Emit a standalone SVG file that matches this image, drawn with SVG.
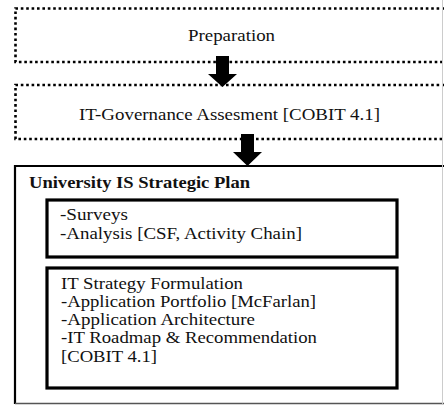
<svg xmlns="http://www.w3.org/2000/svg" width="444" height="405" viewBox="0 0 444 405">
<style>
.dot{fill:none;stroke:#000;stroke-width:2.6;stroke-dasharray:2.6 2.8}
.box{fill:none;stroke:#000;stroke-width:3.2}
.t{font-family:"Liberation Serif","Times New Roman",serif;font-size:17px;fill:#111}
.b{font-family:"Liberation Serif","Times New Roman",serif;font-size:16px;font-weight:bold;fill:#111}
.arr{fill:#000}
</style>
<rect width="444" height="405" fill="#fff"/>
<g id="preparation">
<path class="dot" d="M450,8.5 H15.5 V62 H450"/>
<text class="t" x="188" y="41" textLength="87" lengthAdjust="spacingAndGlyphs">Preparation</text>
</g>
<g id="it-governance">
<path class="dot" d="M450,85 H15.5 V139 H450"/>
<text class="t" x="79" y="120" textLength="301" lengthAdjust="spacingAndGlyphs">IT-Governance Assesment [COBIT 4.1]</text>
</g>
<g id="strategic-plan">
<path d="M15,404 V166 H444" fill="none" stroke="#000" stroke-width="2.2"/>
<path d="M15,403.5 H444" stroke="#555" stroke-width="1.5"/>
<text class="b" x="29" y="188" textLength="221" lengthAdjust="spacingAndGlyphs">University IS Strategic Plan</text>
</g>
<g id="surveys-analysis">
<rect class="box" x="47" y="200" width="350" height="57"/>
<text class="t" x="60" y="220" textLength="68" lengthAdjust="spacingAndGlyphs">-Surveys</text>
<text class="t" x="60" y="239" textLength="242" lengthAdjust="spacingAndGlyphs">-Analysis [CSF, Activity Chain]</text>
</g>
<g id="it-strategy">
<rect class="box" x="47" y="268" width="350" height="120"/>
<text class="t" x="61" y="289" textLength="182" lengthAdjust="spacingAndGlyphs">IT Strategy Formulation</text>
<text class="t" x="61" y="307" textLength="255" lengthAdjust="spacingAndGlyphs">-Application Portfolio [McFarlan]</text>
<text class="t" x="61" y="325" textLength="194" lengthAdjust="spacingAndGlyphs">-Application Architecture</text>
<text class="t" x="61" y="343" textLength="256" lengthAdjust="spacingAndGlyphs">-IT Roadmap &amp; Recommendation</text>
<text class="t" x="61" y="362" textLength="96" lengthAdjust="spacingAndGlyphs">[COBIT 4.1]</text>
</g>
<g id="connectors">
<path class="arr" d="M216,56 H229 V74 H237 L222.5,87 L208,74 H216 Z"/>
<path class="arr" d="M241,134 H254 V152 H262 L247.5,166 L233,152 H241 Z"/>
</g>
<path d="M442.5,0 V405" stroke="#ccc" stroke-width="1"/>
</svg>
